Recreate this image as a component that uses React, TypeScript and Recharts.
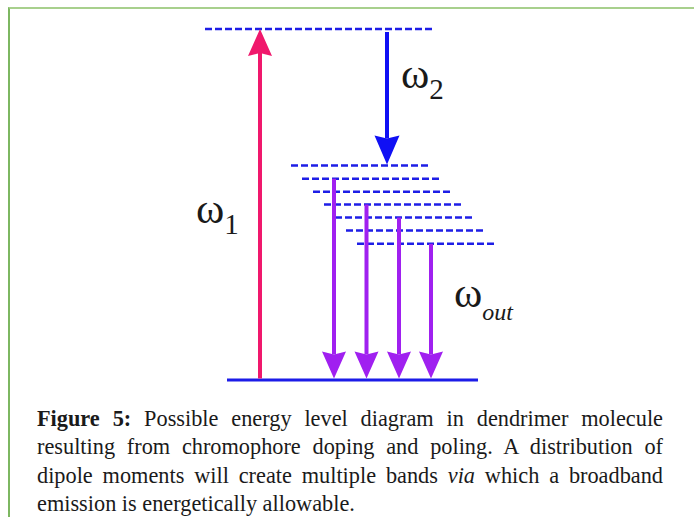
import React from "react";
import { ComposedChart, XAxis, YAxis, ReferenceLine, ReferenceDot } from "recharts";

// Energy axis in arbitrary units (ground state = 0), horizontal axis in diagram units.
const GROUND = 0;
const PUMP_LEVEL = 351;
const BAND_LEVELS = [214.5, 201.3, 188.3, 175.5, 162.5, 149.5, 136.2];
const BAND_START = [291, 302, 313, 324, 335, 346, 357];
const BAND_END = [430, 441, 452, 463, 474, 485, 496];
const PUMP_SPAN = [205, 435];
const GROUND_SPAN = [227, 478];

const OMEGA1_X = 260;
const OMEGA2_X = 387;
const EMISSION_X = [334, 366.5, 399, 431];
const EMISSION_FROM = [1, 3, 4, 6]; // which band level each emission arrow starts on

const LABELS = [
  { x: 196, y: 157, base: "ω", sub: "1", italic: false },
  { x: 401, y: 292, base: "ω", sub: "2", italic: false },
  { x: 454, y: 73, base: "ω", sub: "out", italic: true },
];

const CAPTION_LINES = [
  ["Figure 5:", " Possible energy level diagram in dendrimer molecule"],
  ["", "resulting from chromophore doping and poling.  A distribution of"],
  ["", "dipole moments will create multiple bands ", "via", " which a broadband"],
  ["", "emission is energetically allowable."],
];

const COLORS = {
  level: "#1e1ee6",
  ground: "#1c1ce8",
  pump: "#f0186c",
  stokes: "#1010f4",
  emission: "#a020f0",
  text: "#1a1a1a",
};

const W = 694;
const H = 400;
const SERIF = "'Liberation Serif', 'Times New Roman', serif";

function arrowShape(color: string, width: number, headLen: number, headHalf: number) {
  return (p: any) => {
    const { x1, y1, x2, y2 } = p;
    const dx = x2 - x1;
    const dy = y2 - y1;
    const len = Math.hypot(dx, dy) || 1;
    const ux = dx / len;
    const uy = dy / len;
    const nx = -uy;
    const ny = ux;
    const bx = x2 - ux * headLen;
    const by = y2 - uy * headLen;
    const notch = 3;
    const pts = [
      [x2, y2],
      [bx + nx * headHalf, by + ny * headHalf],
      [bx + ux * notch, by + uy * notch],
      [bx - nx * headHalf, by - ny * headHalf],
    ]
      .map((q) => q.join(","))
      .join(" ");
    return (
      <g>
        <line x1={x1} y1={y1} x2={bx + ux * notch} y2={by + uy * notch} stroke={color} strokeWidth={width} />
        <polygon points={pts} fill={color} />
      </g>
    );
  };
}

function labelShape(base: string, sub: string, italic: boolean) {
  return (p: any) => (
    <text x={p.cx} y={p.cy} fontFamily={SERIF} fontSize={43} fill={COLORS.text}>
      {base}
      <tspan fontSize={italic ? 24 : 29} dy={italic ? 13 : 11} fontStyle={italic ? "italic" : "normal"}>
        {sub}
      </tspan>
    </text>
  );
}

export default function App() {
  return (
    <div style={{ position: "fixed", left: 0, top: 0, width: W, height: 517, background: "#fff", overflow: "hidden" }}>
      <div
        style={{
          position: "absolute",
          left: 8,
          top: 7,
          right: 0,
          bottom: 0,
          borderLeft: "2px solid #7db761",
          borderTop: "2px solid #a8d08d",
        }}
      />
      <div style={{ position: "absolute", left: 0, top: 0 }}>
        <ComposedChart width={W} height={H} data={[]} margin={{ top: 0, right: 0, bottom: 0, left: 0 }}>
          <XAxis type="number" dataKey="x" domain={[0, W]} hide allowDataOverflow />
          <YAxis type="number" domain={[-20, 380]} hide allowDataOverflow />

          <ReferenceLine
            segment={[{ x: PUMP_SPAN[0], y: PUMP_LEVEL }, { x: PUMP_SPAN[1], y: PUMP_LEVEL }]}
            stroke={COLORS.level}
            strokeWidth={2.5}
            strokeDasharray="7 3"
          />
          {BAND_LEVELS.map((e, i) => (
            <ReferenceLine
              key={`band-${i}`}
              segment={[{ x: BAND_START[i], y: e }, { x: BAND_END[i], y: e }]}
              stroke={COLORS.level}
              strokeWidth={2.5}
              strokeDasharray="7 3"
            />
          ))}
          <ReferenceLine
            segment={[{ x: GROUND_SPAN[0], y: GROUND }, { x: GROUND_SPAN[1], y: GROUND }]}
            stroke={COLORS.ground}
            strokeWidth={3}
          />

          <ReferenceLine
            segment={[{ x: OMEGA1_X, y: GROUND + 1.5 }, { x: OMEGA1_X, y: PUMP_LEVEL }]}
            shape={arrowShape(COLORS.pump, 4, 27, 12)}
          />
          <ReferenceLine
            segment={[{ x: OMEGA2_X, y: PUMP_LEVEL - 3 }, { x: OMEGA2_X, y: BAND_LEVELS[0] + 1 }]}
            shape={arrowShape(COLORS.stokes, 4, 29, 12.5)}
          />
          {EMISSION_X.map((x, i) => (
            <ReferenceLine
              key={`em-${i}`}
              segment={[{ x, y: BAND_LEVELS[EMISSION_FROM[i]] }, { x, y: GROUND + 1.5 }]}
              shape={arrowShape(COLORS.emission, 4, 27, 12)}
            />
          ))}

          {LABELS.map((l, i) => (
            <ReferenceDot key={`lab-${i}`} x={l.x} y={l.y} r={0} shape={labelShape(l.base, l.sub, l.italic)} />
          ))}
        </ComposedChart>
      </div>
      <div
        style={{
          position: "absolute",
          left: 37,
          top: 405,
          width: 626,
          fontFamily: SERIF,
          fontSize: 22.3,
          lineHeight: "28.3px",
          color: COLORS.text,
        }}
      >
        {CAPTION_LINES.map((parts, i) => {
          const last = i === CAPTION_LINES.length - 1;
          return (
            <div
              key={i}
              style={{
                textAlign: last ? "left" : "justify",
                textAlignLast: last ? "left" : "justify",
                whiteSpace: "nowrap",
              }}
            >
              {parts[0] && <b>{parts[0]}</b>}
              {parts[1]}
              {parts[2] && <i>{parts[2]}</i>}
              {parts[3]}
            </div>
          );
        })}
      </div>
    </div>
  );
}
